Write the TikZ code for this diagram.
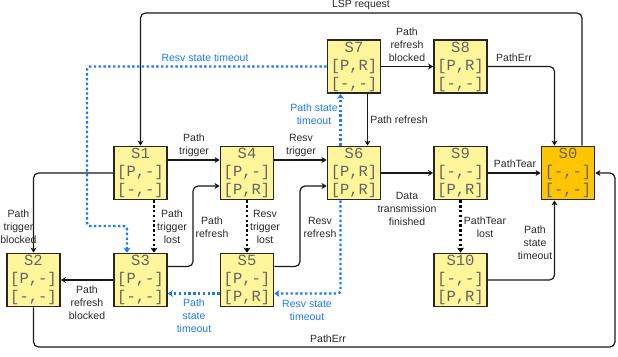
\documentclass[tikz,border=0pt]{standalone}
\usepackage{fontspec}
\setmainfont{Liberation Sans}
\setmonofont{Liberation Mono}
\usetikzlibrary{arrows.meta}
\definecolor{boxfill}{RGB}{255,245,155}
\definecolor{srcfill}{RGB}{255,198,0}
\definecolor{boxtext}{RGB}{100,100,100}
\definecolor{lbl}{RGB}{40,40,40}
\definecolor{tblue}{RGB}{30,120,255}
\tikzset{
  state/.style={draw=black!85,line width=1.8pt,fill=boxfill,minimum width=53pt,minimum height=53pt,inner sep=0pt,
    align=center,font=\fontsize{15.5}{18}\selectfont\ttfamily,text=boxtext},
  srcstate/.style={state,fill=srcfill},
  arr/.style={draw=black!90,line width=1.2pt,rounded corners=5pt,-{Stealth[length=5pt,width=6pt,inset=1.5pt]}},
  dotarr/.style={draw=black,line width=2.4pt,dash pattern=on 2.4pt off 2.4pt,-{Stealth[length=5pt,width=7pt,inset=1.5pt]}},
  bdotarr/.style={draw=tblue,line width=2.4pt,dash pattern=on 2.4pt off 2.4pt,rounded corners=3pt,-{Stealth[length=5pt,width=7pt,inset=1.5pt]}},
  lab/.style={font=\fontsize{10.5}{13}\selectfont,text=lbl,align=center,inner sep=0pt},
  blab/.style={lab,text=tblue},
}
\begin{document}
\begin{tikzpicture}[x=1pt,y=-1pt]
\useasboundingbox (0,0) rectangle (618,356);
% states
\node[state] (s1) at (140.5,173) {S1\\{[P,-]}\\{[-,-]}};
\node[state] (s4) at (247,173) {S4\\{[P,-]}\\{[P,R]}};
\node[state] (s6) at (354,173) {S6\\{[P,R]}\\{[P,R]}};
\node[state] (s9) at (460.5,173) {S9\\{[-,-]}\\{[P,R]}};
\node[srcstate] (s0) at (568,173) {S0\\{[-,-]}\\{[-,-]}};
\node[state] (s7) at (354,66.5) {S7\\{[P,R]}\\{[-,-]}};
\node[state] (s8) at (460.5,66.5) {S8\\{[P,R]}\\{[-,-]}};
\node[state] (s2) at (33.5,280) {S2\\{[P,-]}\\{[-,-]}};
\node[state] (s3) at (140.5,280) {S3\\{[P,-]}\\{[-,-]}};
\node[state] (s5) at (247,280) {S5\\{[P,-]}\\{[P,R]}};
\node[state] (s10) at (460.5,280) {S10\\{[-,-]}\\{[P,R]}};
% helper coordinates
\coordinate (lsptop) at (0,13);
\coordinate (rstA) at (87,226);
\coordinate (c34) at (193,226);
\coordinate (c56) at (300,226);
\coordinate (br) at (615,347);
% connectors
\draw[arr] ([xshift=14pt]s0.north) |- (lsptop -| s1.north) -- (s1.north);
\node[lab] (l0) at (361,5) {LSP request};
\draw[bdotarr] (s7.west) -| (rstA) -| ([xshift=-13.5pt]s3.north);
\node[blab] (l1) at (205,58) {Resv state timeout};
\draw[arr] (s7.east) -- (s8.west);
\node[lab] (l2) at (407,45) {Path\\refresh\\blocked};
\draw[arr] (s8.east) -| ([xshift=-13.5pt]s0.north);
\node[lab] (l3) at (514,58) {PathErr};
\draw[arr] ([xshift=13.5pt]s7.south) -- ([xshift=13.5pt]s6.north);
\node[lab] (l4) at (399,120) {Path refresh};
\draw[bdotarr] ([xshift=-13.5pt]s6.north) -- ([xshift=-13.5pt]s7.south);
\node[blab] (l5) at (314,114) {Path state\\timeout};
\draw[arr] ([yshift=13pt]s1.east) -- ([yshift=13pt]s4.west);
\node[lab] (l6) at (194,145) {Path\\trigger};
\draw[arr] ([yshift=13pt]s4.east) -- ([yshift=13pt]s6.west);
\node[lab] (l7) at (301,145) {Resv\\trigger};
\draw[arr] (s6.east) -- (s9.west);
\node[lab] (l8) at (407,209) {Data\\transmission\\finished};
\draw[arr] (s9.east) -- (s0.west);
\node[lab] (l9) at (515,164) {PathTear};
\draw[arr] (s2.south) |- (br) |- (s0.east);
\node[lab] (l10) at (328,339) {PathErr};
\draw[arr] (s1.west) -| (s2.north);
\node[lab] (l11) at (18.5,227) {Path\\trigger\\blocked};
\draw[dotarr] ([xshift=13.5pt]s1.south) -- ([xshift=13.5pt]s3.north);
\node[lab] (l12) at (172,227) {Path\\trigger\\lost};
\draw[arr] (s3.west) -- (s2.east);
\node[lab] (l13) at (87,303) {Path\\refresh\\blocked};
\draw[arr] ([yshift=13.5pt]s3.east) -| (c34) |- ([yshift=-13pt]s4.west);
\node[lab] (l14) at (212,227) {Path\\refresh};
\draw[dotarr] (s4.south) -- (s5.north);
\node[lab] (l15) at (265,227) {Resv\\trigger\\lost};
\draw[bdotarr] ([yshift=-13.5pt]s5.west) -- ([yshift=-13.5pt]s3.east);
\node[blab] (l16) at (194,316) {Path\\state\\timeout};
\draw[arr] ([yshift=13.5pt]s5.east) -| (c56) |- ([yshift=-13pt]s6.west);
\node[lab] (l17) at (320,227) {Resv\\refresh};
\draw[bdotarr] ([xshift=-13.5pt]s6.south) |- ([yshift=-13.5pt]s5.east);
\node[blab] (l18) at (307,310) {Resv state\\timeout};
\draw[dotarr] (s9.south) -- (s10.north);
\node[lab] (l19) at (485,227) {PathTear\\lost};
\draw[arr] (s10.east) -| ([xshift=-13.5pt]s0.south);
\node[lab] (l20) at (535,243) {Path\\state\\timeout};
\end{tikzpicture}
\end{document}
